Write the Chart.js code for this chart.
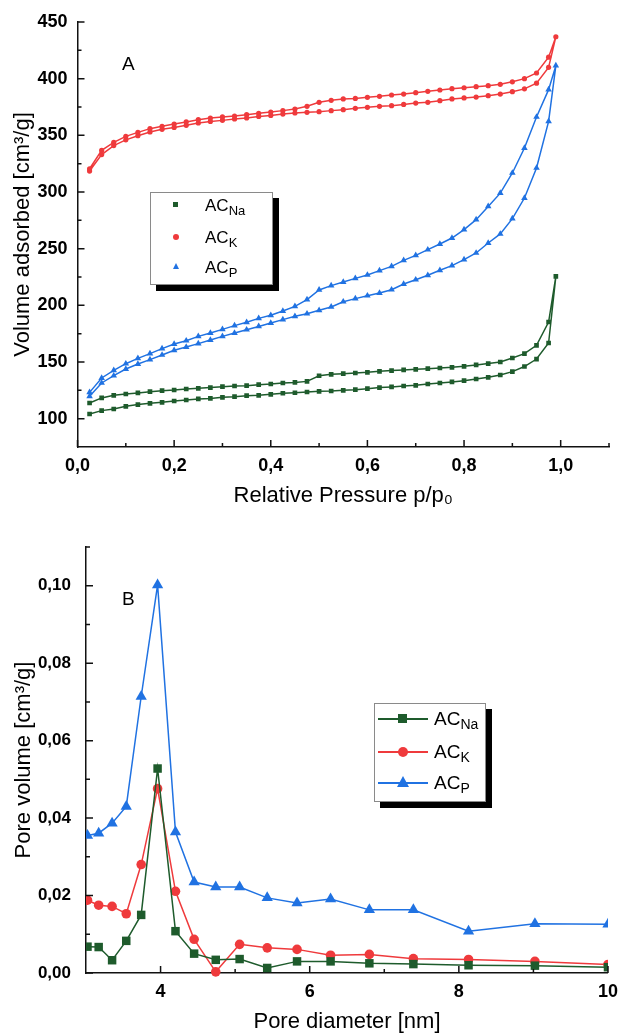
<!DOCTYPE html>
<html>
<head>
<meta charset="utf-8">
<script src="https://cdn.jsdelivr.net/npm/chart.js@4.4.1/dist/chart.umd.min.js"></script>
<style>
  body { margin: 0; background: #fff; font-family: 'Liberation Sans', Arial, sans-serif; }
  #page { position: relative; width: 626px; height: 1033px; overflow: hidden; }
  canvas { position: absolute; left: 0; }
  #chartA { top: 0; }
  #chartB { top: 520px; }
  .panel { position: absolute; font-size: 19px; line-height: 19px; color: #000; }
  .legend { position: absolute; box-sizing: border-box; background: #fff; border: 1px solid #8a8a8a; box-shadow: 6px 6px 0 #000; }
  .lab { position: absolute; white-space: nowrap; color: #000; }
  .lab sub { vertical-align: -0.3em; line-height: 0; }
  .mk { position: absolute; }
  .ln { position: absolute; height: 2px; }
</style>
</head>
<body>
<div id="page">
  <canvas id="chartA" width="626" height="520"></canvas>
  <canvas id="chartB" width="626" height="513"></canvas>

  <div class="panel" style="left:122px; top:54px;">A</div>
  <div class="panel" style="left:122px; top:589px;">B</div>

  <!-- legend, panel A: markers only -->
  <div class="legend" style="left:150px; top:192px; width:123px; height:93px;">
    <div class="mk" style="left:22px; top:9px; width:5px; height:5px; background:#1e5b2c;"></div>
    <div class="lab" style="left:54px; top:4px; font-size:17px; line-height:17px;">AC<sub style="font-size:13px">Na</sub></div>
    <div class="mk" style="left:22px; top:41px; width:6px; height:6px; border-radius:50%; background:#ef3a3c;"></div>
    <div class="lab" style="left:54px; top:36px; font-size:17px; line-height:17px;">AC<sub style="font-size:13px">K</sub></div>
    <div class="mk" style="left:22px; top:70px; width:0; height:0; border-left:3.5px solid transparent; border-right:3.5px solid transparent; border-bottom:6px solid #2072e2;"></div>
    <div class="lab" style="left:54px; top:66px; font-size:17px; line-height:17px;">AC<sub style="font-size:13px">P</sub></div>
  </div>

  <!-- legend, panel B: line + marker -->
  <div class="legend" style="left:374px; top:703px; width:112px; height:99px;">
    <div class="ln" style="left:3px; top:14px; width:50px; background:#1e5b2c;"></div>
    <div class="mk" style="left:23px; top:10px; width:9px; height:9px; background:#1e5b2c;"></div>
    <div class="lab" style="left:59px; top:5px; font-size:19px; line-height:19px;">AC<sub style="font-size:14px">Na</sub></div>
    <div class="ln" style="left:3px; top:47px; width:50px; background:#ef3a3c;"></div>
    <div class="mk" style="left:23px; top:43px; width:10px; height:10px; border-radius:50%; background:#ef3a3c;"></div>
    <div class="lab" style="left:59px; top:38px; font-size:19px; line-height:19px;">AC<sub style="font-size:14px">K</sub></div>
    <div class="ln" style="left:3px; top:78px; width:50px; background:#2072e2;"></div>
    <div class="mk" style="left:22px; top:72px; width:0; height:0; border-left:6px solid transparent; border-right:6px solid transparent; border-bottom:11px solid #2072e2;"></div>
    <div class="lab" style="left:59px; top:69px; font-size:19px; line-height:19px;">AC<sub style="font-size:14px">P</sub></div>
  </div>
</div>

<script>
// ---- panel A: N2 isotherms, adsorption (lower) and desorption (upper) branches
const relP = [0.025, 0.05, 0.075, 0.1, 0.125, 0.15, 0.175, 0.2, 0.225, 0.25,
              0.275, 0.3, 0.325, 0.35, 0.375, 0.4, 0.425, 0.45, 0.475, 0.5,
              0.525, 0.55, 0.575, 0.6, 0.625, 0.65, 0.675, 0.7, 0.725, 0.75,
              0.775, 0.8, 0.825, 0.85, 0.875, 0.9, 0.925, 0.95, 0.975, 0.99];

const naAds = [104.1, 107.1, 108.5, 110.9, 112.4, 113.5, 114.4, 115.6, 116.5, 117.4,
               117.9, 118.8, 119.4, 120.3, 120.6, 121.5, 122.4, 122.9, 123.5, 124.1,
               124.4, 125.0, 125.6, 126.5, 127.4, 128.0, 128.8, 129.4, 130.6, 131.5,
               132.4, 133.5, 135.0, 136.5, 138.5, 141.5, 146.0, 152.6, 166.8, 225.6];
const naDes = [113.8, 118.3, 120.6, 121.8, 122.7, 123.8, 124.7, 125.3, 126.2, 126.8,
               127.4, 128.2, 128.8, 129.1, 130.0, 130.6, 131.5, 132.0, 132.9, 137.9,
               139.1, 139.7, 140.3, 140.9, 141.8, 142.4, 143.0, 143.5, 144.1, 144.7,
               145.3, 146.2, 147.4, 148.6, 150.0, 153.5, 157.4, 164.7, 185.3, 225.6];

const kAds = [318.5, 333.0, 341.0, 346.0, 349.7, 353.0, 355.3, 357.0, 358.8, 360.9,
              362.3, 363.2, 364.4, 365.3, 366.7, 367.6, 368.8, 369.7, 370.3, 370.9,
              371.8, 372.6, 373.8, 374.7, 375.6, 376.2, 377.3, 378.5, 379.1, 380.6,
              382.1, 383.0, 383.8, 385.0, 386.4, 388.5, 391.0, 396.0, 410.0, 437.0];
const kDes = [320.5, 336.7, 343.8, 349.1, 352.6, 355.9, 358.0, 360.0, 361.8, 363.8,
              365.3, 366.2, 367.0, 368.2, 369.4, 370.6, 371.8, 373.2, 375.6, 379.1,
              380.9, 382.1, 382.6, 383.5, 384.4, 385.6, 386.4, 387.6, 388.8, 390.0,
              391.2, 392.0, 392.9, 393.8, 395.0, 397.2, 400.0, 405.0, 419.0, 437.0];

const pAds = [119.7, 131.5, 137.9, 143.8, 148.2, 152.1, 156.2, 160.3, 163.2, 166.2,
              169.4, 172.6, 175.6, 178.5, 181.4, 184.4, 187.4, 190.3, 192.6, 195.6,
              198.6, 203.2, 205.9, 208.5, 210.9, 213.8, 218.8, 222.6, 226.5, 230.9,
              235.0, 240.3, 246.2, 255.0, 263.0, 276.5, 294.7, 321.2, 362.3, 411.5];
const pDes = [123.2, 135.9, 142.6, 148.5, 153.2, 157.4, 161.8, 165.9, 168.8, 172.6,
              175.6, 178.8, 182.1, 185.0, 188.5, 191.2, 195.0, 199.1, 205.0, 213.6,
              217.4, 220.6, 223.8, 226.8, 230.6, 234.4, 239.7, 244.1, 249.1, 254.1,
              259.4, 266.8, 275.6, 287.3, 299.0, 316.8, 338.8, 366.2, 390.3, 411.5];

// ---- panel B: pore size distribution
const poreD = [3.02, 3.17, 3.35, 3.54, 3.74, 3.96, 4.2, 4.45, 4.74, 5.06,
               5.43, 5.83, 6.28, 6.8, 7.39, 8.13, 9.02, 10.0];
const naPSD = [0.0068, 0.0067, 0.0033, 0.0083, 0.0150, 0.0528, 0.0108, 0.0050, 0.0034, 0.0036,
               0.0013, 0.0030, 0.0030, 0.0025, 0.0023, 0.0020, 0.0019, 0.0015];
const kPSD = [0.0188, 0.0175, 0.0172, 0.0153, 0.0280, 0.0476, 0.0211, 0.0087, 0.0003, 0.0074,
              0.0065, 0.0061, 0.0046, 0.0048, 0.0037, 0.0035, 0.0030, 0.0022];
const pPSD = [0.0355, 0.0361, 0.0387, 0.0430, 0.0714, 0.1002, 0.0364, 0.0235, 0.0222, 0.0222,
              0.0194, 0.0181, 0.0191, 0.0163, 0.0163, 0.0108, 0.0127, 0.0126];

// tick labels
const xTicksA = [0, 0.2, 0.4, 0.6, 0.8, 1.0];
const yTicksA = [100, 150, 200, 250, 300, 350, 400, 450];
const xTicksB = [4, 6, 8, 10];
const yTicksB = [0, 0.02, 0.04, 0.06, 0.08, 0.10];

const GREEN = '#1e5b2c', RED = '#ef3a3c', BLUE = '#2072e2';

Chart.defaults.font.family = "'Liberation Sans', Arial, sans-serif";
Chart.defaults.color = '#000';

// adsorption branch up, then desorption branch back down
function loop(ads, des) {
  const pts = relP.map((p, i) => ({ x: p, y: ads[i] }));
  for (let i = relP.length - 2; i >= 0; i--) pts.push({ x: relP[i], y: des[i] });
  return pts;
}

function pairs(xs, ys) {
  return xs.map((x, i) => ({ x: x, y: ys[i] }));
}

// inward tick marks, major + minor
const innerTicks = {
  id: 'innerTicks',
  afterDraw(chart, args, opts) {
    const ctx = chart.ctx;
    const area = chart.chartArea;
    const sx = chart.scales.x, sy = chart.scales.y;
    const minors = (major, max) => {
      const step = major[1] - major[0];
      return major.map(v => v + step / 2).filter(v => v <= max + 1e-9);
    };
    ctx.save();
    ctx.strokeStyle = '#111';
    ctx.lineWidth = 1.5;
    ctx.beginPath();
    const xMaj = opts.x, yMaj = opts.y;
    xMaj.forEach(v => { const px = sx.getPixelForValue(v); ctx.moveTo(px, area.bottom); ctx.lineTo(px, area.bottom - 7); });
    minors(xMaj, sx.max).forEach(v => { const px = sx.getPixelForValue(v); ctx.moveTo(px, area.bottom); ctx.lineTo(px, area.bottom - 4); });
    yMaj.forEach(v => { const py = sy.getPixelForValue(v); ctx.moveTo(area.left, py); ctx.lineTo(area.left + 7, py); });
    minors(yMaj, sy.max).forEach(v => { const py = sy.getPixelForValue(v); ctx.moveTo(area.left, py); ctx.lineTo(area.left + 4, py); });
    ctx.stroke();
    ctx.restore();
  }
};

function axis(opts) {
  return {
    type: 'linear',
    min: opts.min,
    max: opts.max,
    grid: { display: false, drawTicks: false },
    border: { display: true, color: '#111', width: 1.5 },
    afterBuildTicks: s => { s.ticks = opts.ticks.map(v => ({ value: v })); },
    afterFit: s => { if (opts.width) s.width = opts.width; if (opts.height) s.height = opts.height; },
    ticks: {
      padding: opts.pad,
      autoSkip: false,
      maxRotation: 0,
      font: { size: opts.tickSize || 17, weight: 'bold' },
      callback: opts.fmt
    },
    title: {
      display: true,
      text: opts.title,
      font: { size: 22 },
      padding: opts.titlePad
    }
  };
}

new Chart(document.getElementById('chartA'), {
  type: 'scatter',
  data: {
    datasets: [
      { label: 'ACNa', data: loop(naAds, naDes), borderColor: GREEN, backgroundColor: GREEN,
        pointStyle: 'rect', pointRadius: 3.3 },
      { label: 'ACK', data: loop(kAds, kDes), borderColor: RED, backgroundColor: RED,
        pointStyle: 'circle', pointRadius: 2.6 },
      { label: 'ACP', data: loop(pAds, pDes), borderColor: BLUE, backgroundColor: BLUE,
        pointStyle: 'triangle', pointRadius: 3.8 }
    ].map(d => Object.assign(d, { showLine: true, borderWidth: 1.5, pointBorderWidth: 0, tension: 0 }))
  },
  options: {
    responsive: false,
    animation: false,
    events: [],
    layout: { padding: { top: 22, right: 17, left: 0, bottom: 0 } },
    plugins: {
      legend: { display: false },
      tooltip: { enabled: false },
      innerTicks: { x: xTicksA, y: yTicksA }
    },
    scales: {
      x: axis({ min: 0, max: 1.1, ticks: xTicksA, height: 73, pad: 8, tickSize: 18,
        fmt: v => v.toFixed(1).replace('.', ','),
        title: 'Relative Pressure p/p\u2080', titlePad: { top: 0, bottom: 11 } }),
      y: axis({ min: 75, max: 450, ticks: yTicksA, width: 77.5, pad: 10, tickSize: 18,
        fmt: v => String(v),
        title: 'Volume adsorbed [cm\u00b3/g]', titlePad: { top: 10, bottom: 0 } })
    }
  },
  plugins: [innerTicks]
});

new Chart(document.getElementById('chartB'), {
  type: 'scatter',
  data: {
    datasets: [
      { label: 'ACNa', data: pairs(poreD, naPSD), borderColor: GREEN, backgroundColor: GREEN,
        pointStyle: 'rect', pointRadius: 6 },
      { label: 'ACK', data: pairs(poreD, kPSD), borderColor: RED, backgroundColor: RED,
        pointStyle: 'circle', pointRadius: 4.8 },
      { label: 'ACP', data: pairs(poreD, pPSD), borderColor: BLUE, backgroundColor: BLUE,
        pointStyle: 'triangle', pointRadius: 6.5 }
    ].map(d => Object.assign(d, { showLine: true, borderWidth: 1.5, pointBorderWidth: 0, tension: 0,
        clip: { left: 0, right: 0, top: false, bottom: false } }))
  },
  options: {
    responsive: false,
    animation: false,
    events: [],
    layout: { padding: { top: 27, right: 11, left: 0, bottom: 0 } },
    plugins: {
      legend: { display: false },
      tooltip: { enabled: false },
      innerTicks: { x: xTicksB, y: yTicksB }
    },
    scales: {
      x: axis({ min: 3, max: 10, ticks: xTicksB, height: 60, pad: 8, tickSize: 18,
        fmt: v => String(v),
        title: 'Pore diameter [nm]', titlePad: { top: 0, bottom: -2 } }),
      y: axis({ min: 0, max: 0.11, ticks: yTicksB, width: 86, pad: 15,
        fmt: v => v.toFixed(2).replace('.', ','),
        title: 'Pore volume [cm\u00b3/g]', titlePad: { top: 11, bottom: 0 } })
    }
  },
  plugins: [innerTicks]
});
</script>
</body>
</html>
